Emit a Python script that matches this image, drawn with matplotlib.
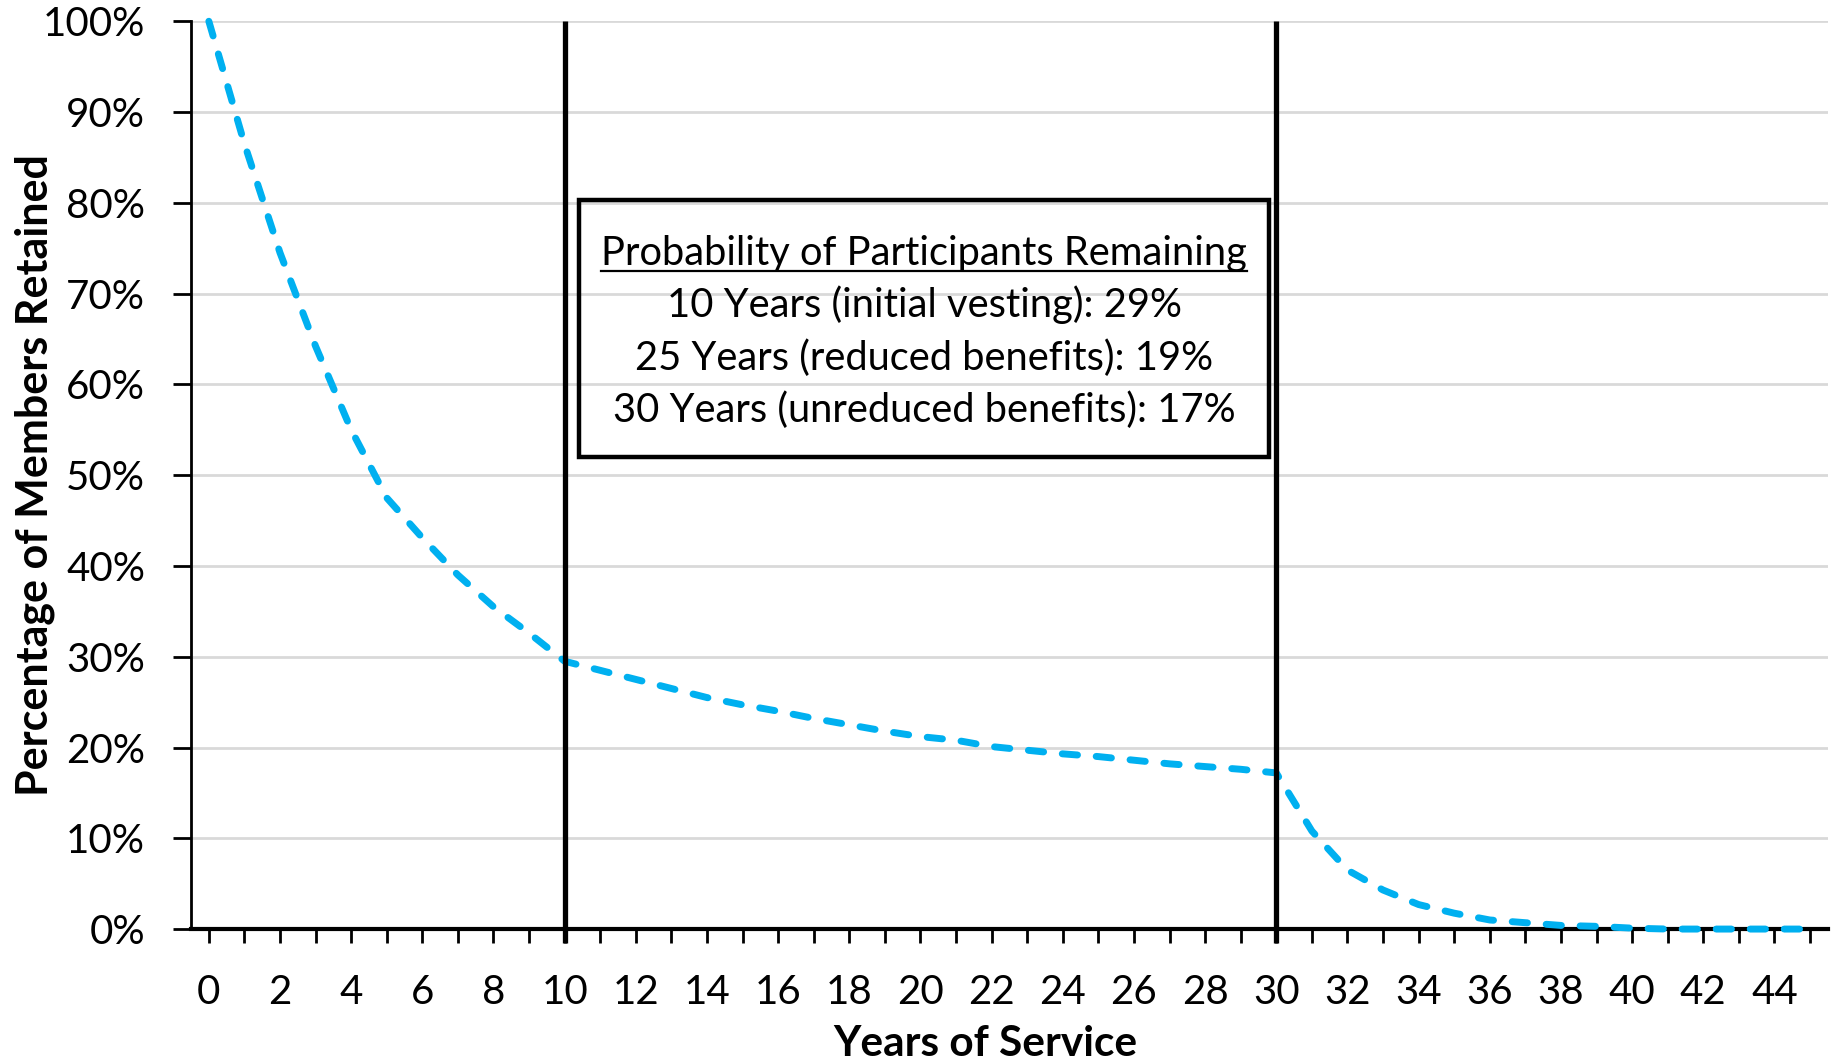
import matplotlib
matplotlib.use("Agg")
import matplotlib.pyplot as plt
from matplotlib.patches import Rectangle

# retention curve (percent of members still in service)
years = list(range(46))
retained = [100, 86.5, 74.5, 64.2, 55.0, 47.5, 43.1, 39.0, 35.5, 32.6,
            29.5, 28.5, 27.5, 26.5, 25.5, 24.7, 24.0, 23.2, 22.5, 21.8,
            21.2, 20.8, 20.1, 19.7, 19.3, 19.0, 18.6, 18.2, 17.9, 17.6,
            17.2, 10.8, 6.5, 4.3, 2.7, 1.75, 1.0, 0.7, 0.4, 0.3,
            0.1, 0.0, 0.0, 0.0, 0.0, 0.0]
milestones = [10, 30]
y_ticks = list(range(0, 101, 10))
x_labels = list(range(0, 46, 2))

box_title = "Probability of Participants Remaining"
box_lines = ["10 Years (initial vesting): 29%",
             "25 Years (reduced benefits): 19%",
             "30 Years (unreduced benefits): 17%"]

plt.rcParams['font.family'] = ['Lato', 'Liberation Sans', 'DejaVu Sans']

fig = plt.figure(figsize=(18.37, 10.63), dpi=100)
ax = fig.add_axes([0.104, 0.126, 0.891, 0.854])

# grid
for v in y_ticks[1:]:
    ax.axhline(v, color='#d9d9d9', lw=2, zorder=0)

ax.plot(years, retained, color='#00b0f0', lw=5, ls=(0, (2.2, 2.7)),
        dash_capstyle='round', zorder=3, clip_on=False)

ax.vlines(milestones, -1.5, 100, color='black', lw=3.8, zorder=4, clip_on=False)

ax.set_xlim(-0.5, 45.5)
ax.set_ylim(0, 100)

ax.set_xticks(years, minor=True)
ax.set_xticks(x_labels)
ax.set_xticklabels([str(v) for v in x_labels])
ax.set_yticks(y_ticks)
ax.set_yticklabels([f"{v}%" for v in y_ticks])

ax.tick_params(axis='x', which='both', direction='out', length=10, width=2, color='black')
ax.tick_params(axis='x', which='major', labelsize=29, pad=22)
ax.tick_params(axis='y', direction='out', length=13, width=2, labelsize=29, pad=20)

for s in ['top', 'right']:
    ax.spines[s].set_visible(False)
ax.spines['left'].set_linewidth(2)
ax.spines['bottom'].set_linewidth(3)

ax.set_xlabel("Years of Service", fontsize=30.5, fontweight='bold')
ax.set_ylabel("Percentage of Members Retained", fontsize=31, fontweight='bold')
ax.xaxis.set_label_coords(0.485, -0.106)
ax.yaxis.set_label_coords(-0.083, 0.5)

# info box
ax.add_patch(Rectangle((10.4, 52.0), 19.4, 28.3, fill=False, ec='black', lw=3.2, zorder=5))
cx = 20.1
t = ax.text(cx, 73.2, box_title, fontsize=28.7, ha='center', va='baseline', zorder=6)
for i, line in enumerate(box_lines):
    ax.text(cx, 67.4 - i * 5.8, line, fontsize=28.7, ha='center', va='baseline', zorder=6)

# underline the box title
fig.canvas.draw()
bb = t.get_window_extent(fig.canvas.get_renderer())
base = ax.transData.transform((cx, 73.2))[1] - 6
inv = ax.transData.inverted()
x0, y0 = inv.transform((bb.x0, base))
x1, _ = inv.transform((bb.x1, base))
ax.plot([x0, x1], [y0, y0], color='black', lw=1.6, zorder=6)

fig.savefig("out.png", dpi=100)
